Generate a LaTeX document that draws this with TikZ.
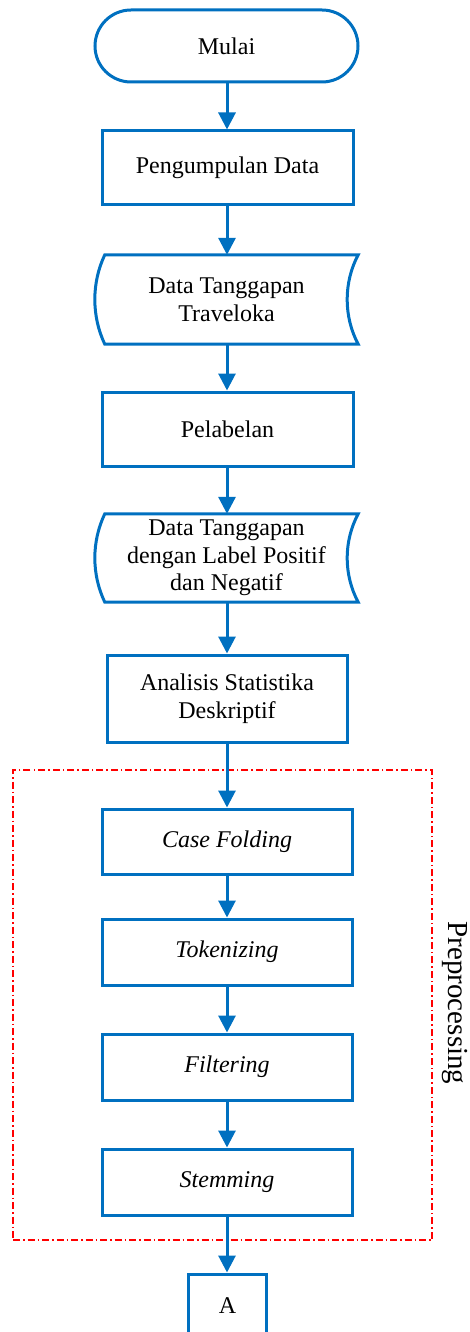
\documentclass[tikz,border=0pt]{standalone}
\usepackage{fontspec}
\setmainfont{Liberation Serif}
\usetikzlibrary{arrows.meta}
\definecolor{flowblue}{HTML}{0070C0}
\tikzset{
  every node/.style={font=\fontsize{24}{27.6}\selectfont, align=center},
  procbox/.style={draw=flowblue, line width=3pt, fill=white, rectangle},
  termbox/.style={draw=flowblue, line width=3pt, fill=white, rectangle, rounded corners=36pt},
  databox/.style={inner sep=0pt},
  flowarrow/.style={draw=flowblue, line width=3pt, -{Triangle[length=17pt, width=17pt]}},
  dataedge/.style={draw=flowblue, line width=3pt, line join=miter},
  preframe/.style={draw=red, line width=1.5pt, dash pattern=on 7pt off 3pt on 1.5pt off 3pt, rectangle, inner sep=0pt},
}
\begin{document}
\begin{tikzpicture}[x=1pt, y=-1pt]
\useasboundingbox (0,0) rectangle (470,1332);

% preprocessing frame and its label
\node[preframe, minimum width=419pt, minimum height=470pt] (pre) at (222.5,1005) {};
\node[rotate=-90, font=\fontsize{29}{32}\selectfont] (prelabel) at (455,1003) {Preprocessing};

% main flow
\node[termbox, minimum width=263pt, minimum height=72pt] (mulai) at (226.5,46) {Mulai};
\node[procbox, minimum width=251pt, minimum height=74pt] (kumpul) at (227.5,168) {Pengumpulan Data};
\node[databox, minimum width=263pt, minimum height=89pt] (data1) at (226.5,299.5) {Data Tanggapan\\Traveloka};
\node[procbox, minimum width=251pt, minimum height=74pt] (label) at (227.5,429) {Pelabelan};
\node[databox, minimum width=263pt, minimum height=88pt] (data2) at (226.5,558) {Data Tanggapan\\dengan Label Positif\\dan Negatif};
\node[procbox, minimum width=240pt, minimum height=87pt] (analisis) at (227,698.5) {Analisis Statistika\\Deskriptif};
\node[procbox, minimum width=250pt, minimum height=65pt] (casefold) at (227,841.5) {\itshape Case Folding};
\node[procbox, minimum width=250pt, minimum height=66pt] (token) at (227,952) {\itshape Tokenizing};
\node[procbox, minimum width=250pt, minimum height=66pt] (filter) at (227,1067) {\itshape Filtering};
\node[procbox, minimum width=250pt, minimum height=66pt] (stem) at (227,1182) {\itshape Stemming};
\node[procbox, minimum width=78pt, minimum height=64pt] (conA) at (227.5,1306) {A};

% stored-data outlines: convex arc on the left, concave arc on the right
\foreach \d in {data1,data2}{
  \draw[dataedge]
    ([xshift=10pt]\d.north west) -- (\d.north east)
    .. controls ([xshift=-14.7pt, yshift=-27.5pt]\d.north east) and ([xshift=-14.7pt, yshift=27.5pt]\d.south east) .. (\d.south east)
    -- ([xshift=10pt]\d.south west)
    .. controls ([xshift=-3.3pt, yshift=27.8pt]\d.south west) and ([xshift=-3.3pt, yshift=-27.8pt]\d.north west) .. ([xshift=10pt]\d.north west)
    -- cycle;
}

% connectors
\draw[flowarrow] (mulai.south -| 227,0) -- (kumpul.north -| 227,0);
\draw[flowarrow] (kumpul.south -| 227,0) -- (data1.north -| 227,0);
\draw[flowarrow] (data1.south -| 227,0) -- (label.north -| 227,0);
\draw[flowarrow] (label.south -| 227,0) -- (data2.north -| 227,0);
\draw[flowarrow] (data2.south -| 227,0) -- (analisis.north -| 227,0);
\draw[flowarrow] (analisis.south) -- (casefold.north);
\draw[flowarrow] (casefold.south) -- (token.north);
\draw[flowarrow] (token.south) -- (filter.north);
\draw[flowarrow] (filter.south) -- (stem.north);
\draw[flowarrow] (stem.south) -- (conA.north -| 227,0);
\end{tikzpicture}
\end{document}
